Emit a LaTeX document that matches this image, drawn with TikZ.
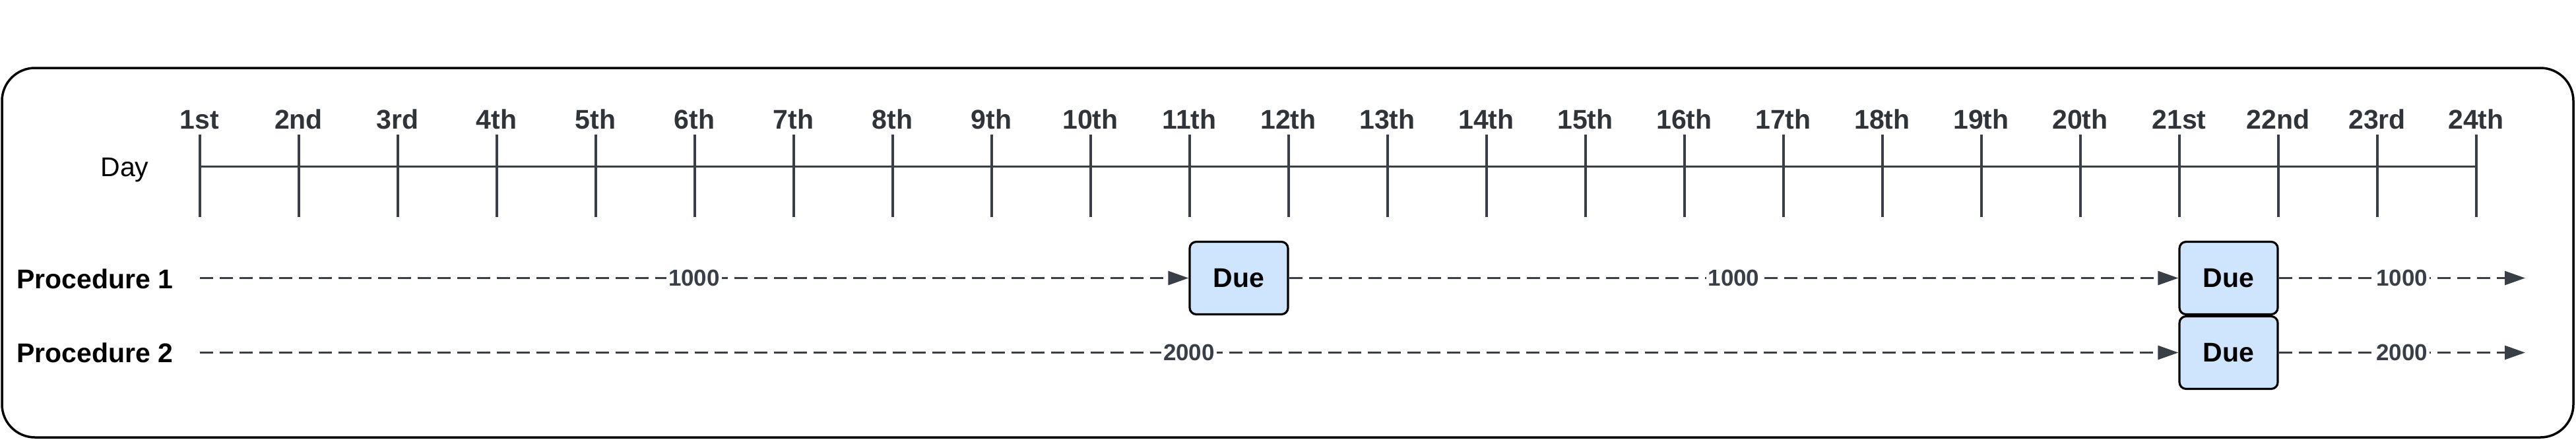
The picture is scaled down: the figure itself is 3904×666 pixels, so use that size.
\documentclass[tikz,border=0pt]{standalone}
\usepackage{fontspec}
\setmainfont{Liberation Sans}
\usetikzlibrary{arrows.meta}
\definecolor{linegray}{HTML}{3A3F47}
\definecolor{lblgray}{HTML}{303338}
\definecolor{duefill}{HTML}{CFE4FD}
\begin{document}
\begin{tikzpicture}[x=0.5pt,y=-0.5pt,
  tickline/.style={draw=linegray,line width=2pt},
  daylbl/.style={font=\fontsize{20.5}{24}\selectfont\bfseries,text=lblgray,anchor=base,inner sep=0pt},
  proclbl/.style={font=\fontsize{20.5}{24}\selectfont\bfseries,text=black,anchor=base west,inner sep=0pt},
  duebox/.style={draw=black,fill=duefill,line width=1.6pt,rounded corners=5pt,minimum width=74.5pt,minimum height=55pt,font=\fontsize{20.5}{24}\selectfont\bfseries,inner sep=0pt},
  flow/.style={draw=linegray,line width=1.5pt,dash pattern=on 10pt off 5pt,-{Triangle[length=15.5pt,width=10.5pt]}},
  amount/.style={font=\fontsize{17.5}{20}\selectfont\bfseries,text=linegray,fill=white,inner sep=1.5pt}
]
\useasboundingbox (0,0) rectangle (3904,666);
% frame
\draw[black,line width=1.75pt,rounded corners=25pt] (3,103) rectangle (3900,663);
% day label
\node[font=\fontsize{20.5}{24}\selectfont,anchor=base,inner sep=0pt] (daylabel) at (189,267) {Day};
% timeline
\coordinate (tl0) at (302.5,252.5);
\coordinate (tl1) at (3752.5,252.5);
\draw[draw=linegray,line width=1.75pt] (tl0) -- (tl1);
\foreach \i/\s in {1/1st,2/2nd,3/3rd,4/4th,5/5th,6/6th,7/7th,8/8th,9/9th,10/10th,11/11th,12/12th,13/13th,14/14th,15/15th,16/16th,17/17th,18/18th,19/19th,20/20th,21/21st,22/22nd,23/23rd,24/24th}{
  \coordinate (tt\i) at ({302.5+(\i-1)*150},204);
  \coordinate (tb\i) at ({302.5+(\i-1)*150},329);
  \draw[tickline] (tt\i) -- (tb\i);
  \node[daylbl] (d\i) at ({302.5+(\i-1)*150},195) {\s};
}
% procedure labels
\node[proclbl] (p1) at (25,437) {Procedure 1};
\node[proclbl] (p2) at (25,549) {Procedure 2};
% due boxes
\node[duebox] (due1) at (1877.5,421.5) {Due};
\node[duebox] (due2) at (3377.5,421.5) {Due};
\node[duebox] (due3) at (3377.5,534.5) {Due};
% flow endpoints
\coordinate (s1) at (302.5,421.5);
\coordinate (s2) at (302.5,534.5);
\coordinate (e1) at (3827,421.5);
\coordinate (e2) at (3827,534.5);
% flows
\draw[flow] (s1) -- node[amount,midway] (a1) {1000} (due1);
\draw[flow] (due1) -- node[amount,midway] (a2) {1000} (due2);
\draw[flow] (due2) -- node[amount,midway] (a3) {1000} (e1);
\draw[flow] (s2) -- node[amount,midway] (b1) {2000} (due3);
\draw[flow] (due3) -- node[amount,midway] (b2) {2000} (e2);
\end{tikzpicture}
\end{document}
